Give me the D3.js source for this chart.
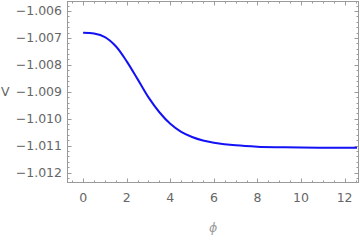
<!DOCTYPE html>
<html>
<head>
<meta charset="utf-8">
<script src="https://cdn.jsdelivr.net/npm/d3@7"></script>
<style>
  body { margin: 0; background: #fff; }
  text { font-family: "DejaVu Sans", sans-serif; fill: #666; }
</style>
</head>
<body>
<svg id="chart" width="360" height="240"></svg>
<script>
// phi values along the curve and the potential V
var phi = [0, 0.5, 1, 1.5, 2, 2.5, 3, 3.5, 4, 4.5, 5, 5.5, 6, 7, 8, 9, 10, 11, 12, 12.57];
var V = [-1.00681, -1.00684, -1.00697, -1.00731, -1.00787, -1.00853, -1.00921, -1.00976,
         -1.01019, -1.01049, -1.01068, -1.01081, -1.01089, -1.01099, -1.01104, -1.01106,
         -1.01107, -1.01108, -1.01108, -1.01108];
var xTicks = [0, 2, 4, 6, 8, 10, 12];
var yTicks = [-1.006, -1.007, -1.008, -1.009, -1.010, -1.011, -1.012];

var plotLeft = 67, plotRight = 359, plotTop = 1, plotBottom = 182;
var svg = d3.select("#chart");

var x = d3.scaleLinear().domain([-0.74, 12.66]).range([plotLeft, plotRight]);
var y = d3.scaleLinear().domain([-1.01235, -1.00563]).range([plotBottom, plotTop]);

var frameColor = "#9a9a9a";

// minor ticks
var xMinor = d3.range(-0.5, 12.7, 0.5).filter(function (d) { return d % 2 !== 0; });
var yMinor = d3.range(-1.0122, -1.0056, 0.0002).filter(function (d) {
    return Math.abs(Math.round(d * 1000) - d * 1000) > 1e-6;
});

var g = svg.append("g");

// frame
g.append("rect")
    .attr("x", plotLeft + 0.5).attr("y", plotTop + 0.5)
    .attr("width", plotRight - plotLeft - 1).attr("height", plotBottom - plotTop)
    .attr("fill", "none").attr("stroke", frameColor).attr("stroke-width", 1);

function vTicks(vals, len) {
    vals.forEach(function (d) {
        var px = Math.round(x(d)) + 0.5;
        g.append("line").attr("x1", px).attr("x2", px)
            .attr("y1", plotBottom + 0.5).attr("y2", plotBottom + 0.5 - len)
            .attr("stroke", frameColor);
        g.append("line").attr("x1", px).attr("x2", px)
            .attr("y1", plotTop + 0.5).attr("y2", plotTop + 0.5 + len)
            .attr("stroke", frameColor);
    });
}
function hTicks(vals, len) {
    vals.forEach(function (d) {
        var py = Math.round(y(d)) + 0.5;
        g.append("line").attr("y1", py).attr("y2", py)
            .attr("x1", plotLeft + 0.5).attr("x2", plotLeft + 0.5 + len)
            .attr("stroke", frameColor);
        g.append("line").attr("y1", py).attr("y2", py)
            .attr("x1", plotRight - 0.5).attr("x2", plotRight - 0.5 - len)
            .attr("stroke", frameColor);
    });
}
vTicks(xTicks, 4);
vTicks(xMinor.filter(function (d) { return x(d) > plotLeft + 1 && x(d) < plotRight - 1; }), 2);
hTicks(yTicks, 4);
hTicks(yMinor.filter(function (d) { return y(d) > plotTop + 1 && y(d) < plotBottom - 1; }), 2);

// tick labels
xTicks.forEach(function (d) {
    g.append("text").attr("x", x(d)).attr("y", plotBottom + 20)
        .attr("text-anchor", "middle").attr("font-size", 12.5).text(d);
});
yTicks.forEach(function (d) {
    g.append("text").attr("x", plotLeft - 5).attr("y", y(d) + 4.5)
        .attr("text-anchor", "end").attr("font-size", 12.5)
        .text("\u2212" + Math.abs(d).toFixed(3));
});

// axis labels
svg.append("text").attr("x", 1).attr("y", 96).attr("font-size", 12.5).text("V");
svg.append("text").attr("x", 213).attr("y", 232).attr("text-anchor", "middle")
    .attr("font-size", 12.5).attr("font-style", "italic").style("fill", "#9a9a9a").text("\u03d5");

// curve
var pts = phi.map(function (p, i) { return [p, V[i]]; });
var line = d3.line()
    .x(function (d) { return x(d[0]); })
    .y(function (d) { return y(d[1]); })
    .curve(d3.curveCatmullRom.alpha(0.5));

svg.append("path").datum(pts)
    .attr("d", line)
    .attr("fill", "none")
    .attr("stroke", "#1212f5")
    .attr("stroke-width", 2);
</script>
</body>
</html>
